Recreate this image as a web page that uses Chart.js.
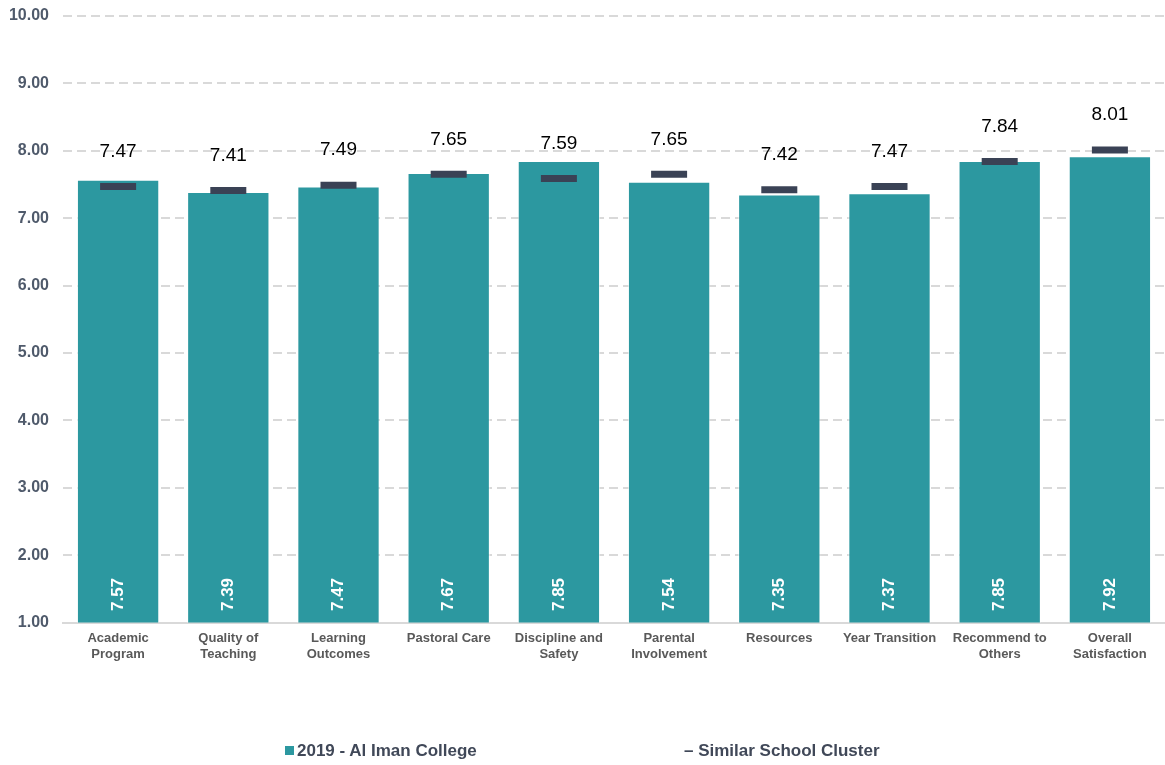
<!DOCTYPE html>
<html>
<head>
<meta charset="utf-8">
<script src="https://cdn.jsdelivr.net/npm/chart.js@4.4.1/dist/chart.umd.min.js"></script>
<style>
  html, body { margin: 0; padding: 0; background: #fff; overflow: hidden; }
  #wrap { position: relative; width: 1165px; height: 765px; }
  #myChart { display: block; }
  #legend {
    position: absolute; top: 741px; left: 0; width: 1165px; height: 24px;
    font: bold 17px "Liberation Sans Narrow", "Arial Narrow", Arial, sans-serif;
    color: #404858;
  }
  #legend .item { position: absolute; top: 0; white-space: nowrap; }
  #legend .box { display: inline-block; width: 9px; height: 9px; background: #2c98a0; margin-right: 3px; vertical-align: 1px; }
</style>
</head>
<body>
<div id="wrap">
  <canvas id="myChart" width="1165" height="765"></canvas>
  <div id="legend">
    <span class="item" style="left:285px"><span class="box"></span>2019 - Al Iman College</span>
    <span class="item" style="left:684px">&ndash; Similar School Cluster</span>
  </div>
</div>
<script>
const categories = [
  ["Academic", "Program"],
  ["Quality of", "Teaching"],
  ["Learning", "Outcomes"],
  "Pastoral Care",
  ["Discipline and", "Safety"],
  ["Parental", "Involvement"],
  "Resources",
  "Year Transition",
  ["Recommend to", "Others"],
  ["Overall", "Satisfaction"],
];
const schoolScores = [7.57, 7.39, 7.47, 7.67, 7.85, 7.54, 7.35, 7.37, 7.85, 7.92];
const clusterScores = [7.47, 7.41, 7.49, 7.65, 7.59, 7.65, 7.42, 7.47, 7.84, 8.01];

const barColor = "#2c98a0";
const markerColor = "#3a4255";

// draws value labels: white rotated inside bars, black above the cluster marks
const valueLabels = {
  id: "valueLabels",
  afterDatasetsDraw(chart) {
    const ctx = chart.ctx;
    const bottom = chart.chartArea.bottom;
    ctx.save();
    chart.getDatasetMeta(0).data.forEach((bar, i) => {
      ctx.save();
      ctx.translate(bar.x, bottom - 28);
      ctx.rotate(-Math.PI / 2);
      ctx.fillStyle = "#ffffff";
      ctx.font = 'bold 17px "Liberation Sans Narrow", "Arial Narrow", Arial, sans-serif';
      ctx.textAlign = "center";
      ctx.textBaseline = "middle";
      ctx.fillText(schoolScores[i].toFixed(2), 0, 0);
      ctx.restore();
    });
    chart.getDatasetMeta(1).data.forEach((pt, i) => {
      ctx.fillStyle = "#000000";
      ctx.font = '19px "Liberation Sans", Arial, sans-serif';
      ctx.textAlign = "center";
      ctx.textBaseline = "middle";
      ctx.fillText(clusterScores[i].toFixed(2), pt.x, pt.y - 35);
    });
    ctx.restore();
  },
};

const ctx = document.getElementById("myChart").getContext("2d");

new Chart(ctx, {
  type: "bar",
  data: {
    labels: categories,
    datasets: [
      {
        label: "2019 - Al Iman College",
        data: schoolScores,
        backgroundColor: barColor,
        borderColor: "rgba(255,255,255,0.6)",
        borderWidth: 1,
        barPercentage: 0.9,
        categoryPercentage: 0.83,
        order: 2,
      },
      {
        type: "line",
        label: "Similar School Cluster",
        data: clusterScores,
        showLine: false,
        pointStyle: "line",
        pointRadius: 18,
        pointHoverRadius: 18,
        pointBorderWidth: 7,
        pointHoverBorderWidth: 7,
        borderColor: markerColor,
        backgroundColor: markerColor,
        order: 1,
      },
    ],
  },
  options: {
    responsive: false,
    animation: false,
    layout: { autoPadding: false, padding: { top: 16, left: 9, right: 0, bottom: 102 } },
    plugins: {
      legend: { display: false },
      tooltip: { enabled: false },
    },
    scales: {
      x: {
        grid: { display: false },
        border: { color: "#d9d9d9", width: 2 },
        ticks: {
          color: "#595959",
          font: { family: "Arial, 'Liberation Sans', sans-serif", size: 13, weight: "bold", lineHeight: 1.25 },
          padding: 0,
          maxRotation: 0,
          autoSkip: false,
        },
        afterFit(scale) {
          // no extra side padding for the outer labels
          scale.paddingLeft = 0;
          scale.paddingRight = 0;
        },
      },
      y: {
        min: 1,
        max: 10,
        grid: { color: "#d9d9d9", lineWidth: 2, drawTicks: false },
        border: { display: false, dash: [9, 5] },
        ticks: {
          stepSize: 1,
          color: "#4f5a6b",
          padding: 14,
          font: { family: "Arial, 'Liberation Sans', sans-serif", size: 16, weight: "bold" },
          callback: function (value) {
            return value.toFixed(2);
          },
        },
        afterFit(scale) {
          scale.width = 54;
          scale.paddingTop = 0;
          scale.paddingBottom = 0;
        },
      },
    },
  },
  plugins: [valueLabels],
});
</script>
</body>
</html>
